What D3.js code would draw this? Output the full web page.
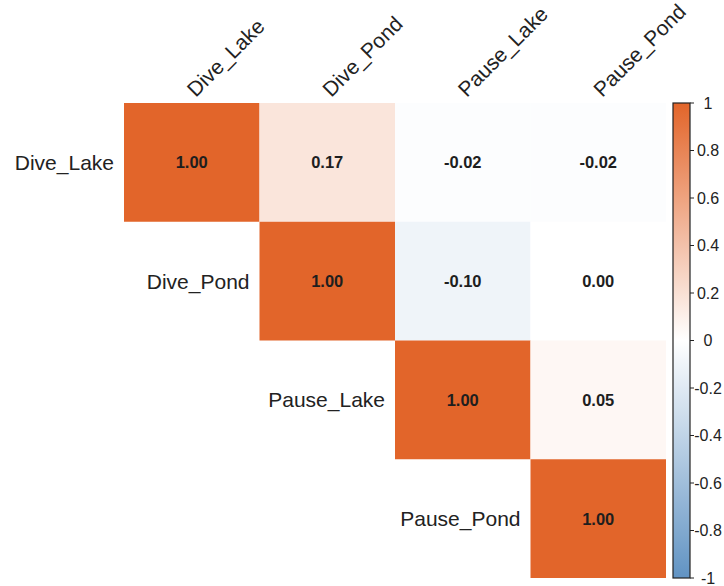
<!DOCTYPE html>
<html>
<head>
<meta charset="utf-8">
<script src="https://cdn.jsdelivr.net/npm/d3@7"></script>
<style>
  html, body { margin: 0; padding: 0; background: #ffffff; }
  svg { display: block; font-family: "Liberation Sans", Arial, sans-serif; }
</style>
</head>
<body>
<svg id="chart" width="724" height="586"></svg>
<script>
// Variables in the correlation matrix
const variables = ["Dive_Lake", "Dive_Pond", "Pause_Lake", "Pause_Pond"];

// Upper-triangle correlation values, one row per variable (from the diagonal onward)
const rowDiveLake  = [1.00, 0.17, -0.02, -0.02];
const rowDivePond  = [1.00, -0.10, 0.00];
const rowPauseLake = [1.00, 0.05];
const rowPausePond = [1.00];

// Colour bar tick labels
const legendTicks = [1, 0.8, 0.6, 0.4, 0.2, 0, -0.2, -0.4, -0.6, -0.8, -1];

const rows = [rowDiveLake, rowDivePond, rowPauseLake, rowPausePond];
const cells = [];
rows.forEach((vals, i) => {
  vals.forEach((v, k) => {
    cells.push({ row: variables[i], col: variables[i + k], value: v });
  });
});

const svg = d3.select("#chart");

const x = d3.scaleBand().domain(variables).range([124, 666]).paddingInner(0);
const y = d3.scaleBand().domain(variables).range([103, 578]).paddingInner(0);

const color = d3.scaleLinear()
  .domain([-1, 0, 1])
  .range(["#6193c3", "#ffffff", "#e2652a"])
  .interpolate(d3.interpolateRgb);

// Cells
svg.append("g").selectAll("rect")
  .data(cells)
  .join("rect")
  .attr("x", d => x(d.col))
  .attr("y", d => y(d.row))
  .attr("width", x.bandwidth())
  .attr("height", y.bandwidth())
  .attr("fill", d => color(d.value));

// Cell values
svg.append("g").selectAll("text")
  .data(cells)
  .join("text")
  .attr("x", d => x(d.col) + x.bandwidth() / 2)
  .attr("y", d => y(d.row) + y.bandwidth() / 2)
  .attr("dy", "0.36em")
  .attr("text-anchor", "middle")
  .attr("font-size", 16.5)
  .attr("font-weight", "bold")
  .attr("fill", "#1e1e1e")
  .text(d => d.value.toFixed(2));

// Row labels, placed left of each diagonal cell
svg.append("g").selectAll("text")
  .data(variables)
  .join("text")
  .attr("x", d => x(d) - 10)
  .attr("y", d => y(d) + y.bandwidth() / 2)
  .attr("dy", "0.36em")
  .attr("text-anchor", "end")
  .attr("font-size", 21)
  .attr("fill", "#222")
  .text(d => d);

// Column labels, rotated along the top
svg.append("g").selectAll("text")
  .data(variables)
  .join("text")
  .attr("transform", d => `translate(${x(d) + x.bandwidth() / 2 + 4},${y.range()[0] - 5}) rotate(-45)`)
  .attr("text-anchor", "start")
  .attr("font-size", 21)
  .attr("fill", "#222")
  .text(d => d);

// Colour bar
const barX = 673, barW = 17;
const legendScale = d3.scaleLinear().domain([-1, 1]).range([578, 103]);

const defs = svg.append("defs");
const grad = defs.append("linearGradient")
  .attr("id", "corrGradient")
  .attr("x1", "0").attr("y1", "1").attr("x2", "0").attr("y2", "0");
d3.range(0, 1.0001, 0.05).forEach(t => {
  grad.append("stop")
    .attr("offset", t)
    .attr("stop-color", color(-1 + 2 * t));
});

svg.append("rect")
  .attr("x", barX)
  .attr("y", legendScale(1))
  .attr("width", barW)
  .attr("height", legendScale(-1) - legendScale(1))
  .attr("fill", "url(#corrGradient)")
  .attr("stroke", "#222")
  .attr("stroke-width", 1.2);

const tickG = svg.append("g").selectAll("g")
  .data(legendTicks)
  .join("g")
  .attr("transform", d => `translate(0,${legendScale(d)})`);

tickG.append("line")
  .attr("x1", barX + barW)
  .attr("x2", barX + barW + 4)
  .attr("stroke", "#222")
  .attr("stroke-width", 1);

tickG.append("text")
  .attr("x", 708)
  .attr("dy", "0.36em")
  .attr("text-anchor", "middle")
  .attr("font-size", 16)
  .attr("fill", "#222")
  .text(d => String(+d.toFixed(1)));
</script>
</body>
</html>
